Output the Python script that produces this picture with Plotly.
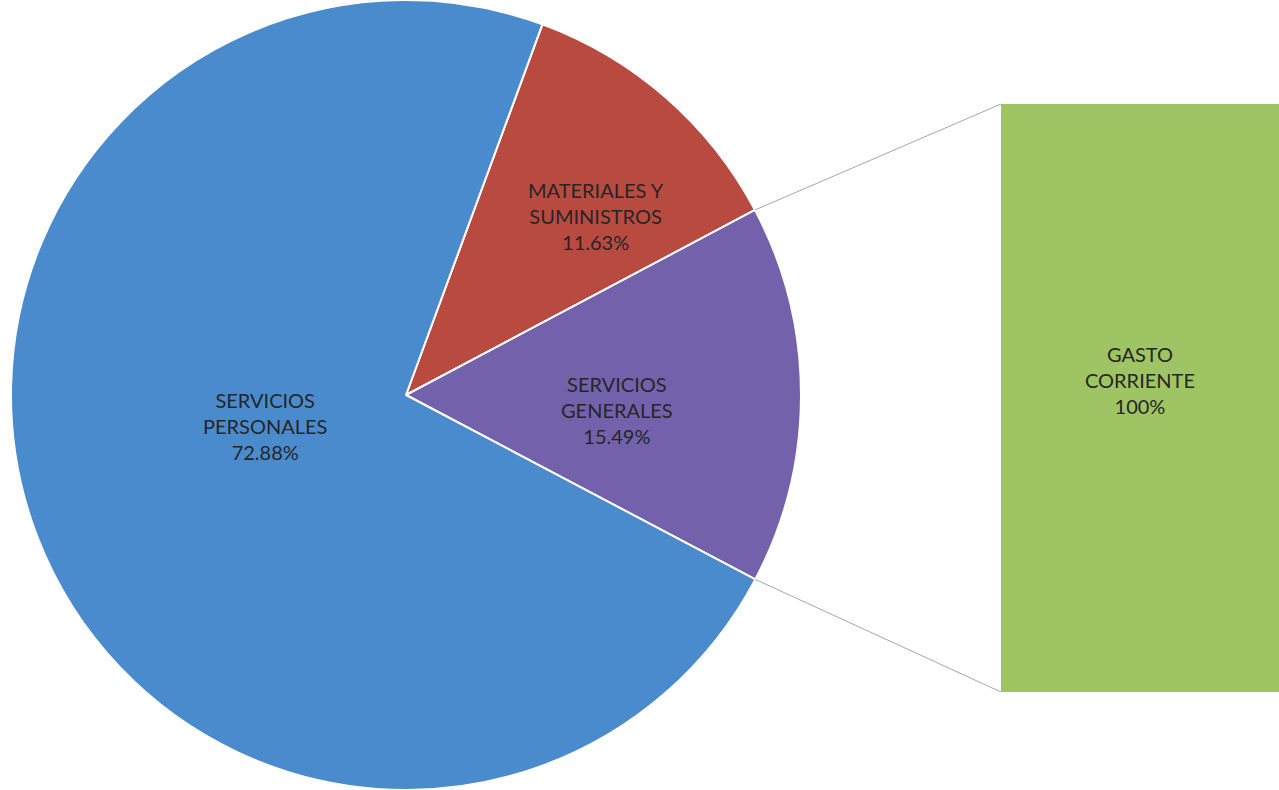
import math
import plotly.graph_objects as go

# datos del grafico
conceptos = ["MATERIALES Y<br>SUMINISTROS", "SERVICIOS<br>GENERALES", "SERVICIOS<br>PERSONALES"]
porcentajes = [11.63, 15.49, 72.88]
colores = ["#b94a40", "#7362ab", "#4a8bcd"]

barra_nombre = ["GASTO<br>CORRIENTE"]
barra_valor = [100]

W, H = 1279, 790
giro = 20.2  # grados, sentido horario desde las 12

# posicion de la torta en pixeles
cx, cy, r = 406, 395, 395
dom_x = [(cx - r) / W, (cx + r) / W]

# posicion de la barra
bx0, by0, by1 = 1001, 104, 692

# centro de cada etiqueta de la torta (pixeles)
pos_etiquetas = [(596, 216), (617, 410), (265, 426)]

fuente = dict(family="Lato", size=20, color="#262626")

fig = go.Figure()

fig.add_trace(go.Pie(
    labels=conceptos, values=porcentajes, sort=False, direction="clockwise",
    rotation=giro, marker=dict(colors=colores, line=dict(color="white", width=2)),
    textinfo="none", domain=dict(x=dom_x, y=[0, 1]),
    showlegend=False, hoverinfo="label+value",
))

for nombre, valor, (px, py) in zip(conceptos, porcentajes, pos_etiquetas):
    fig.add_annotation(xref="paper", yref="paper", x=px / W, y=1 - py / H,
                       xanchor="center", yanchor="middle",
                       text=f"{nombre}<br>{valor:.2f}%", showarrow=False,
                       font=fuente, align="center")

fig.add_trace(go.Bar(
    x=barra_nombre, y=barra_valor, marker=dict(color="#9fc463", line=dict(width=0)),
    xaxis="x2", yaxis="y2", showlegend=False,
))

for nombre, valor in zip(barra_nombre, barra_valor):
    fig.add_annotation(xref="x2", yref="y2", x=nombre, y=valor * 0.53,
                       xanchor="center", yanchor="middle",
                       text=f"{nombre}<br>{valor}%", showarrow=False,
                       font=fuente, align="center")

# lineas de conexion entre la porcion de servicios generales y la barra
ini = giro + porcentajes[0] * 3.6
fin = ini + porcentajes[1] * 3.6
for ang, by in [(ini, by0), (fin, by1)]:
    a = math.radians(ang)
    px = cx + r * math.sin(a)
    py = cy - r * math.cos(a)
    fig.add_shape(type="line", xref="paper", yref="paper",
                  x0=px / W, y0=1 - py / H, x1=bx0 / W, y1=1 - by / H,
                  line=dict(color="#a6a6a6", width=1))

fig.update_layout(
    width=W, height=H, margin=dict(l=0, r=0, t=0, b=0),
    paper_bgcolor="white", plot_bgcolor="white", bargap=0,
    xaxis2=dict(domain=[bx0 / W, 1], visible=False, anchor="y2"),
    yaxis2=dict(domain=[1 - by1 / H, 1 - by0 / H], range=[0, 100], visible=False, anchor="x2"),
    xaxis=dict(visible=False), yaxis=dict(visible=False),
    font=dict(family="Lato"),
)

fig.write_html("out.html", config={"displayModeBar": False},
               post_script="document.body.style.margin='0px';")
